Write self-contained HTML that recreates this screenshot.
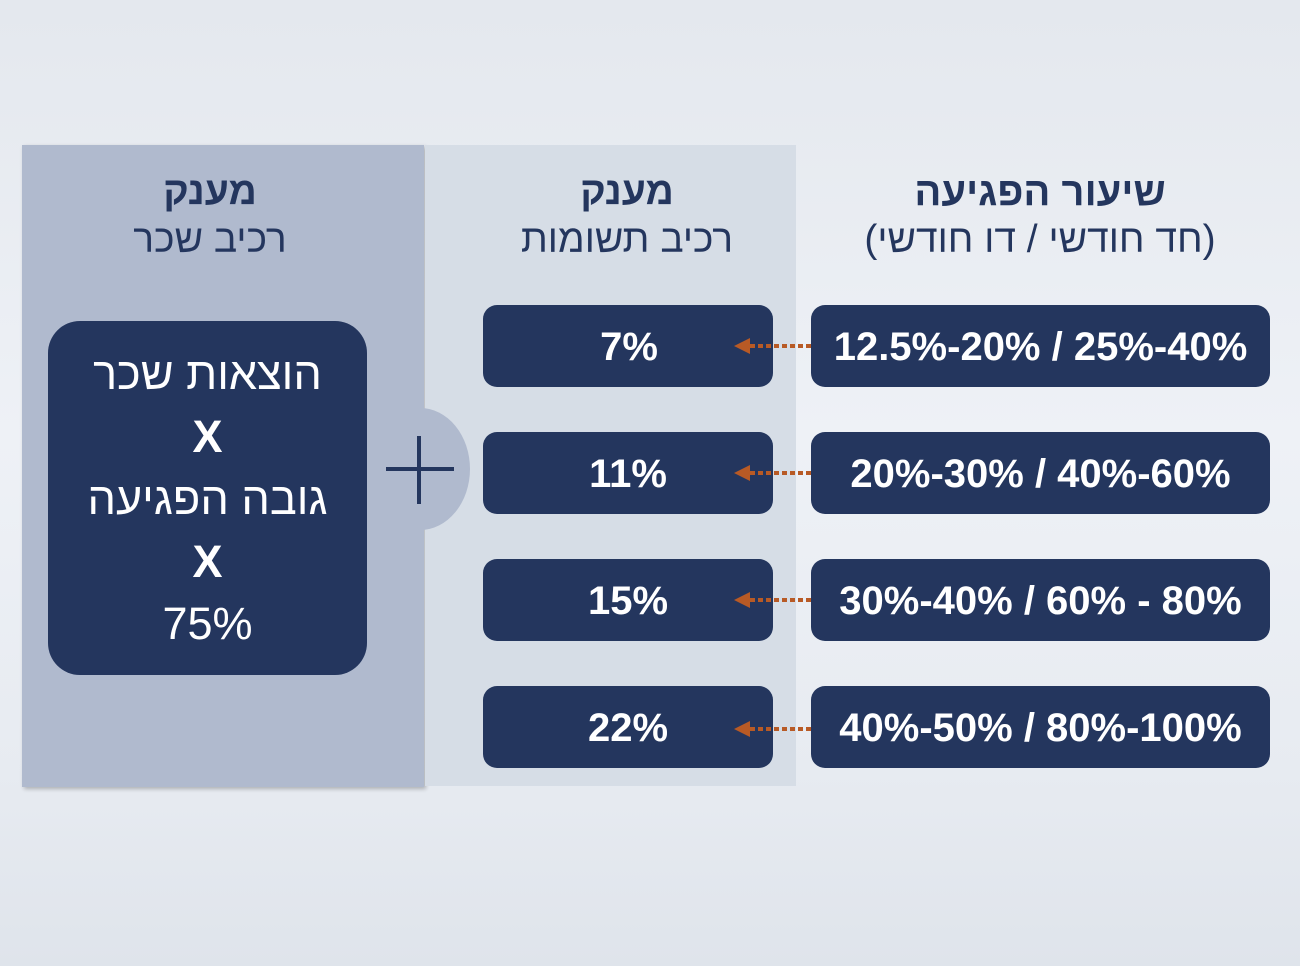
<!DOCTYPE html>
<html><head><meta charset="utf-8"><style>
*{margin:0;padding:0;box-sizing:border-box}
body{width:1300px;height:966px;overflow:hidden;position:relative;font-family:"Liberation Sans","Noto Sans CJK JP",sans-serif;background:linear-gradient(180deg,#e4e8ee 0%,#eef1f6 45%,#e7ebf1 80%,#dfe4eb 100%)}
.a{position:absolute}
.box{position:absolute;background:#24365e;border-radius:14px;color:#fff;font-weight:bold;font-size:40px;display:flex;align-items:center;justify-content:center;white-space:nowrap;padding-top:2px}
.h{position:absolute;text-align:center;color:#24365e;white-space:nowrap;direction:rtl}
.arr{position:absolute;height:4px;width:62px;left:750px;background:repeating-linear-gradient(90deg,#b85a25 0 5px,transparent 5px 8px)}
.tri{position:absolute;left:734px;width:0;height:0;border-top:8px solid transparent;border-bottom:8px solid transparent;border-right:16px solid #b85a25}
</style></head><body>
<div class="a" style="left:22px;top:145px;width:402px;height:642px;background:#b0bace;box-shadow:2px 2px 4px rgba(0,0,0,.25)"></div>
<div class="a" style="left:425px;top:145px;width:371px;height:641px;background:#d6dde6"></div>
<div class="a" style="left:370px;top:408px;width:100px;height:122px;border-radius:50%;background:#b0bace"></div>
<div class="a" style="left:386px;top:467px;width:68px;height:4px;background:#24365e"></div>
<div class="a" style="left:417px;top:436px;width:4px;height:68px;background:#24365e"></div>

<div class="h" style="left:20px;width:380px;top:170px;font-size:39px;font-weight:bold">מענק</div>
<div class="h" style="left:20px;width:380px;top:218px;font-size:39px">רכיב שכר</div>
<div class="h" style="left:437px;width:380px;top:170px;font-size:39px;font-weight:bold">מענק</div>
<div class="h" style="left:437px;width:380px;top:218px;font-size:39px">רכיב תשומות</div>
<div class="h" style="left:830px;width:420px;top:170px;font-size:40px;font-weight:bold">שיעור הפגיעה</div>
<div class="h" style="left:830px;width:420px;top:218px;font-size:39px">(חד חודשי / דו חודשי)</div>

<div class="a" style="left:48px;top:321px;width:319px;height:354px;background:#24365e;border-radius:32px;color:#fff;text-align:center;direction:rtl;font-size:45px;line-height:62.5px;padding-top:22px">
<div>הוצאות שכר</div><div style="font-weight:bold">X</div><div>גובה הפגיעה</div><div style="font-weight:bold">X</div><div>75%</div></div>

<div class="box" style="left:483px;top:305px;width:290px;height:82px;padding-left:2px">7%</div>
<div class="box" style="left:483px;top:432px;width:290px;height:82px">11%</div>
<div class="box" style="left:483px;top:559px;width:290px;height:82px">15%</div>
<div class="box" style="left:483px;top:686px;width:290px;height:82px">22%</div>

<div class="box" style="left:811px;top:305px;width:459px;height:82px">12.5%-20% / 25%-40%</div>
<div class="box" style="left:811px;top:432px;width:459px;height:82px">20%-30% / 40%-60%</div>
<div class="box" style="left:811px;top:559px;width:459px;height:82px">30%-40% / 60% - 80%</div>
<div class="box" style="left:811px;top:686px;width:459px;height:82px">40%-50% / 80%-100%</div>

<div class="arr" style="top:344px"></div><div class="tri" style="top:338px"></div>
<div class="arr" style="top:471px"></div><div class="tri" style="top:465px"></div>
<div class="arr" style="top:598px"></div><div class="tri" style="top:592px"></div>
<div class="arr" style="top:727px"></div><div class="tri" style="top:721px"></div>
</body></html>
